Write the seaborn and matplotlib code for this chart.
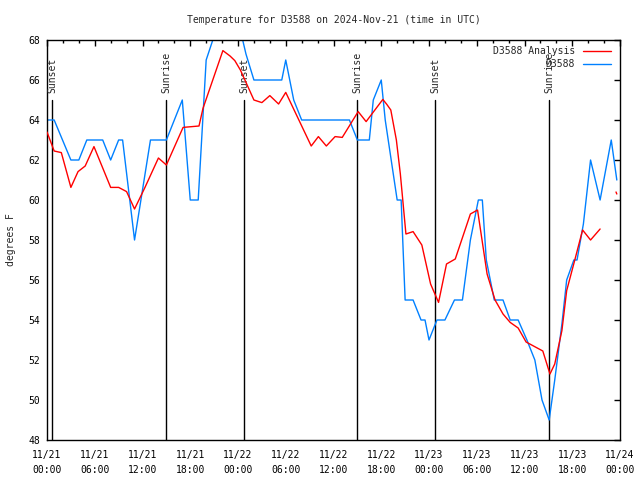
import numpy as np
import pandas as pd
import matplotlib
matplotlib.use("Agg")
import matplotlib.pyplot as plt
import seaborn as sns
from matplotlib.ticker import MultipleLocator
from matplotlib.lines import Line2D

# hours since 2024-11-21 00:00 UTC
obs_hours = [0.0, 0.9, 3.0, 4.0, 5.0, 7.0, 8.0, 9.0, 9.5, 11.0, 13.0, 15.0, 17.0, 18.0,
             19.0, 20.0, 21.0, 22.0, 23.0, 24.0, 25.0, 26.0, 29.5, 30.0, 31.0, 32.0, 38.0,
             39.0, 40.5, 41.0, 42.0, 42.5, 44.0, 44.5, 45.0, 46.0, 47.0, 47.5, 48.0, 49.0,
             50.0, 51.2, 52.2, 53.2, 54.2, 54.7, 55.2, 56.2, 57.3, 58.2, 59.2, 60.3, 61.3,
             62.2, 63.1, 63.8, 64.7, 65.3, 66.2, 66.6, 67.4, 68.3, 69.5, 70.9, 71.6]
obs_temp = [64, 64, 62, 62, 63, 63, 62, 63, 63, 58, 63, 63, 65, 60,
            60, 67, 68.2, 69, 69, 69, 67.3, 66, 66, 67, 65, 64, 64,
            63, 63, 65, 66, 64, 60, 60, 55, 55, 54, 54, 53, 54,
            54, 55, 55, 58, 60, 60, 57, 55, 55, 54, 54, 53, 52,
            50, 49, 51, 53.8, 56, 57, 57, 58.8, 62, 60, 63, 61]

ana_hours = [0.0, 0.9, 1.8, 3.0, 3.9, 4.8, 5.9, 8.0, 9.0, 10.0, 11.0, 12.3, 14.0, 15.0,
             17.1, 19.1, 19.6, 22.1, 23.0, 23.6, 24.3, 26.0, 27.0, 28.0, 29.1, 30.0, 33.2,
             34.1, 35.1, 36.2, 37.1, 39.1, 40.1, 42.2, 42.7, 43.2, 43.9, 44.4, 45.1, 46.0,
             47.1, 48.2, 49.2, 50.2, 51.3, 52.5, 53.2, 54.1, 55.3, 56.3, 57.3, 58.2, 59.2,
             60.2, 62.3, 63.2, 63.8, 64.7, 65.3, 66.3, 67.3, 68.3, 69.5, 71.5, 71.6]
ana_temp = [63.4, 62.45, 62.37, 60.63, 61.42, 61.7, 62.67, 60.63, 60.63, 60.42, 59.55, 60.62, 62.1, 61.75,
            63.63, 63.7, 64.58, 67.47, 67.2, 66.97, 66.5, 65.0, 64.87, 65.22, 64.8, 65.38, 62.7,
            63.17, 62.7, 63.17, 63.13, 64.42, 63.92, 65.03, 64.78, 64.5, 63.0, 61.3, 58.3, 58.42,
            57.75, 55.8, 54.88, 56.8, 57.05, 58.47, 59.3, 59.5, 56.3, 55.0, 54.3, 53.88, 53.6,
            52.9, 52.45, 51.3, 51.8, 53.47, 55.47, 56.97, 58.5, 58.0, 58.55, 60.4, 60.3]
ana_segment = [0] * 63 + [1, 1]

sun_hours = [0.66, 15.0, 24.8, 39.0, 48.8, 63.1]
sun_labels = ["Sunset", "Sunrise", "Sunset", "Sunrise", "Sunset", "Sunrise"]

tick_hours = list(range(0, 73, 6))
tick_labels = ["11/21\n00:00", "11/21\n06:00", "11/21\n12:00", "11/21\n18:00",
               "11/22\n00:00", "11/22\n06:00", "11/22\n12:00", "11/22\n18:00",
               "11/23\n00:00", "11/23\n06:00", "11/23\n12:00", "11/23\n18:00",
               "11/24\n00:00"]

obs_df = pd.DataFrame({"hour": obs_hours, "temp": obs_temp})
ana_df = pd.DataFrame({"hour": ana_hours, "temp": ana_temp, "seg": ana_segment})

sns.set_style("white")
plt.rcParams["font.family"] = ["DejaVu Sans Mono"]
plt.rcParams["font.size"] = 7

RED = "#ff0000"
BLUE = "#0080ff"

fig = plt.figure(figsize=(6.4, 4.8), dpi=100)
ax = fig.add_axes([47 / 640, 40 / 480, 573 / 640, 400 / 480])

for h, lab in zip(sun_hours, sun_labels):
    ax.plot([h, h], [48, 65], color="black", lw=1, zorder=1)
    ax.text(h, 65.35, lab, rotation=90, ha="center", va="bottom", fontsize=7)

sns.lineplot(data=ana_df, x="hour", y="temp", units="seg", estimator=None,
             color=RED, lw=1, ax=ax, zorder=3)
sns.lineplot(data=obs_df, x="hour", y="temp", color=BLUE, lw=1, ax=ax, zorder=2)

ax.set_xlim(0, 72)
ax.set_ylim(48, 68)
ax.set_xticks(tick_hours)
ax.set_xticklabels(tick_labels, linespacing=1.7)
ax.xaxis.set_minor_locator(MultipleLocator(2))
ax.yaxis.set_major_locator(MultipleLocator(2))
ax.tick_params(which="both", direction="in", top=True, right=True, width=1, colors="black")
ax.tick_params(which="major", length=4)
ax.tick_params(which="minor", length=2.5)
ax.tick_params(axis="x", which="major", pad=7)
ax.tick_params(axis="y", which="major", pad=5)
for s in ax.spines.values():
    s.set_color("black")
    s.set_linewidth(1)

ax.set_xlabel("")
ax.set_ylabel("degrees F", fontsize=7, labelpad=9)
ax.set_title("Temperature for D3588 on 2024-Nov-21 (time in UTC)", fontsize=7, pad=12)

handles = [Line2D([], [], color=RED, lw=1), Line2D([], [], color=BLUE, lw=1)]
ax.legend(handles, ["D3588 Analysis", "D3588"], loc="upper right", frameon=False,
          markerfirst=False, fontsize=7, handlelength=2.9, handletextpad=0.8,
          labelspacing=0.35, borderaxespad=0, borderpad=0, alignment="right",
          bbox_to_anchor=(0.984, 0.985))

fig.savefig("out.png", dpi=100)
